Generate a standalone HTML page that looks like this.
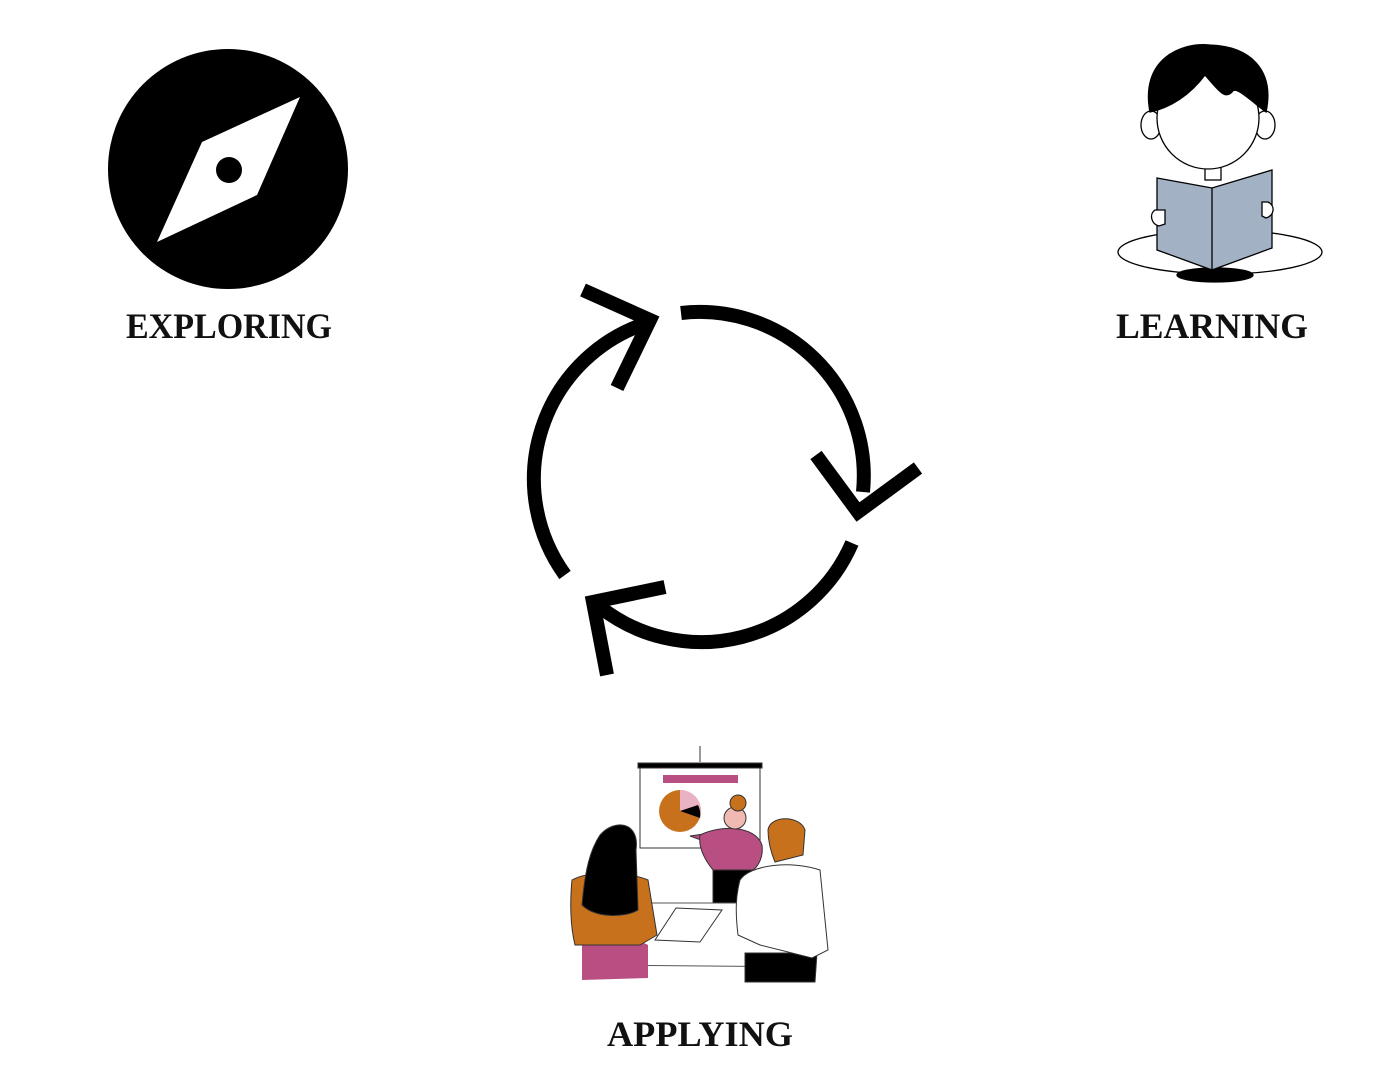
<!DOCTYPE html>
<html><head><meta charset="utf-8"><style>html,body{margin:0;padding:0;background:#fff;}svg{display:block}</style></head>
<body>
<svg width="1400" height="1082" viewBox="0 0 1400 1082" xmlns="http://www.w3.org/2000/svg">
<rect width="1400" height="1082" fill="#fff"/>
<!-- compass -->
<circle cx="228" cy="169" r="120" fill="#000"/>
<polygon points="300,97 257,195 157,242 202,142" fill="#fff"/>
<circle cx="229" cy="170" r="13" fill="#000"/>
<!-- cycle -->
<g fill="none" stroke="#000" stroke-width="14">
<path d="M681,313 A164,164 0 0 1 863,492"/>
<path d="M852,543 A164,164 0 0 1 600,607"/>
<path d="M565,575 A164,164 0 0 1 647,323"/>
<polyline points="583,290 650,320 617,388"/>
<polyline points="816,455 858,512 918,468"/>
<polyline points="665,587 593,602 607,675"/>
</g>
<!-- reading boy -->
<g stroke="#000" stroke-width="1.3">
<ellipse cx="1220" cy="252" rx="102" ry="22" fill="#fff"/>
<ellipse cx="1215" cy="275" rx="38" ry="7" fill="#000"/>
<ellipse cx="1151" cy="125" rx="10" ry="14" fill="#fff"/>
<ellipse cx="1265" cy="125" rx="10" ry="14" fill="#fff"/>
<rect x="1205" y="160" width="16" height="20" fill="#fff"/>
<circle cx="1208" cy="118" r="51" fill="#fff"/>
<path d="M1150,112 C1140,60 1180,42 1210,45 C1250,46 1275,70 1266,112 C1250,100 1235,85 1232,92 C1225,100 1218,90 1205,75 C1190,95 1170,108 1150,112Z" fill="#000"/>
<polygon points="1157,178 1212,188 1272,170 1272,248 1212,270 1157,250" fill="#a3b1c4"/>
<line x1="1212" y1="188" x2="1212" y2="270"/>
<path d="M1155,210 c-6,4 -4,14 4,16 l6,-2 v-14z" fill="#fff"/>
<path d="M1268,202 c8,4 6,14 -2,16 l-4,-2 v-14z" fill="#fff"/>
</g>
<!-- meeting -->
<g stroke="#333" stroke-width="1">
<line x1="700" y1="746" x2="700" y2="762"/>
<rect x="640" y="766" width="120" height="82" fill="#fff"/>
<rect x="638" y="763" width="124" height="5" fill="#000"/>
<rect x="663" y="775" width="75" height="8" fill="#b94e82" stroke="none"/>
<circle cx="680" cy="811" r="21" fill="#c8711c" stroke="none"/>
<path d="M680,811 L680,790 A21,21 0 0 1 700,818Z" fill="#e9b3c4" stroke="none"/>
<path d="M680,811 L698,805 A21,21 0 0 1 700,818Z" fill="#000" stroke="none"/>
<path d="M690,836 L715,845 L718,832 Z" fill="#b94e82"/>
<path d="M713,868 L752,868 L752,905 L713,905Z" fill="#000"/>
<path d="M700,835 C720,825 755,825 762,845 C764,860 755,870 752,870 L713,870 C705,860 698,848 700,835Z" fill="#b94e82"/>
<circle cx="735" cy="818" r="11" fill="#f0b9b2"/>
<circle cx="738" cy="803" r="8" fill="#c8711c"/>
<polygon points="590,965 605,903 800,903 813,967" fill="#fff" stroke="#555"/>
<polygon points="655,940 676,908 722,910 700,942" fill="#fff"/>
<path d="M582,940 C600,935 640,940 648,945 L648,978 L582,980Z" fill="#b94e82" stroke="none"/>
<path d="M572,880 C590,870 630,872 648,880 L657,935 L640,945 L575,945 C570,925 570,900 572,880Z" fill="#c8711c"/>
<path d="M600,835 C615,818 640,822 636,850 L638,910 C625,918 595,918 582,905 C585,870 590,850 600,835Z" fill="#000"/>
<path d="M745,953 L817,953 L815,982 L745,982Z" fill="#000"/>
<path d="M740,880 C750,865 790,860 820,870 L828,950 L812,958 L760,945 L738,935 C735,910 736,895 740,880Z" fill="#fff"/>
<path d="M768,830 C770,815 800,815 805,830 L803,855 L775,862 C770,850 768,840 768,830Z" fill="#c8711c"/>
</g>
<!-- labels -->
<g font-family="'Liberation Serif',serif" font-weight="bold" font-size="36" fill="#111" text-anchor="middle">
<text x="229" y="338" textLength="206" lengthAdjust="spacingAndGlyphs">EXPLORING</text>
<text x="1212" y="338" textLength="192" lengthAdjust="spacingAndGlyphs">LEARNING</text>
<text x="700" y="1046" textLength="186" lengthAdjust="spacingAndGlyphs">APPLYING</text>
</g>
</svg>
</body></html>
